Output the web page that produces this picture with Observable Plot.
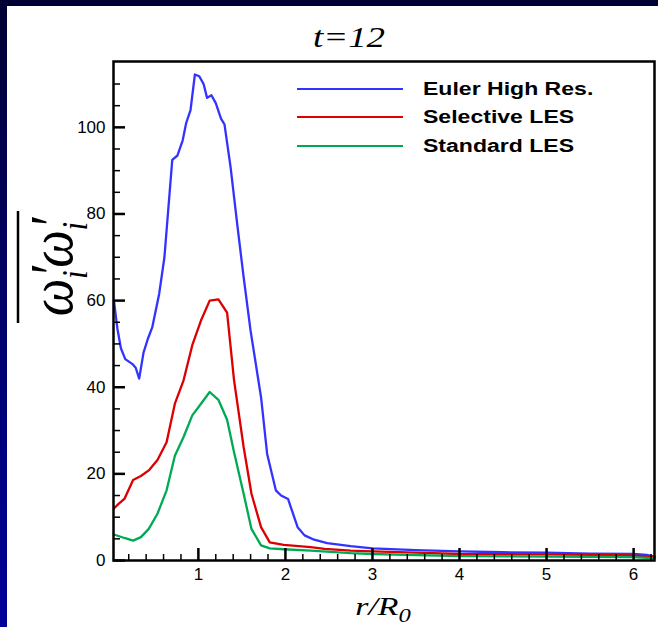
<!DOCTYPE html>
<html>
<head>
<meta charset="utf-8">
<script src="https://cdn.jsdelivr.net/npm/d3@7"></script>
<script src="https://cdn.jsdelivr.net/npm/@observablehq/plot@0.6"></script>
<style>
  html, body { margin: 0; padding: 0; }
  body { width: 658px; height: 627px; overflow: hidden; position: relative;
         background: linear-gradient(to bottom, #000033 0%, #000070 55%, #000099 100%); }
  #panel { position: absolute; left: 7px; top: 6px; width: 651px; height: 621px; background: white; }
  #overlay { position: absolute; left: 0; top: 0; pointer-events: none; }
  .leg { position: absolute; height: 20px; display: flex; align-items: center; white-space: nowrap; }
  .leg .ln { width: 106px; height: 2.5px; margin-right: 20px; }
  .leg .tx { font: bold 18px "Liberation Sans", Arial, sans-serif; display: inline-block; transform: scaleX(1.28); transform-origin: left center; }
</style>
</head>
<body>
<div id="panel"></div>
<script>
// ---- data ----
const seriesNames = ["Euler High Res.", "Selective LES", "Standard LES"];
const seriesColors = ["#3333ff", "#dd0000", "#00aa55"];

const eulerR = [0.03,0.07,0.11,0.16,0.24,0.28,0.32,0.37,0.42,0.47,0.55,0.61,0.70,0.76,0.82,0.86,0.91,0.96,1.01,1.06,1.10,1.15,1.20,1.26,1.30,1.37,1.45,1.52,1.60,1.72,1.79,1.89,1.95,2.03,2.14,2.22,2.33,2.48,2.75,3.0,3.5,4.0,4.5,5.0,5.5,6.0,6.15,6.24];
const eulerW = [60,53.5,49,46.5,45.4,44.5,42,48,51.2,53.8,61.6,70,92.5,93.5,97,101,104,112.2,111.8,110,106.8,107.4,105.6,102,100.7,90.8,77,65.4,53,37.7,24.6,16.2,15,14.2,7.7,5.8,4.8,4,3.3,2.8,2.4,2.1,1.9,1.8,1.6,1.5,1.3,0.9];

const selectiveR = [0.03,0.08,0.15,0.25,0.34,0.43,0.53,0.635,0.73,0.83,0.93,1.03,1.13,1.23,1.33,1.41,1.52,1.61,1.72,1.82,1.98,2.29,2.45,2.75,3.0,3.5,4.0,5.0,6.0,6.24];
const selectiveW = [12,13,14.2,18.6,19.5,20.8,23.2,27.3,36.2,41.6,49.7,55.4,60,60.3,57.2,41.6,26.2,15.4,7.7,4.2,3.6,3.1,2.7,2.3,2.1,1.8,1.5,1.4,1.2,0.8];

const standardR = [0.03,0.15,0.25,0.34,0.43,0.53,0.635,0.73,0.83,0.93,1.03,1.13,1.23,1.33,1.41,1.52,1.61,1.72,1.82,1.98,2.29,2.75,3.0,4.0,5.0,6.0,6.24];
const standardW = [6,5.2,4.6,5.4,7.3,10.8,16.2,24.2,28.5,33.5,36.2,38.9,37.1,32.5,25,15.4,7.3,3.5,2.8,2.6,2.3,1.7,1.5,1.0,0.9,0.8,0.5];

const xTicks = [1, 2, 3, 4, 5, 6];
const xMinorTicks = d3.range(0.2, 6.25, 0.2).map(v => Math.round(v * 10) / 10).filter(v => Math.abs(v - Math.round(v)) > 1e-6);
const yTicks = [0, 20, 40, 60, 80, 100];
const yMinorTicks = d3.range(5, 115, 5).filter(v => v % 20 !== 0);

const titleText = "t=12";

// ---- table ----
const rows = [];
[[eulerR, eulerW], [selectiveR, selectiveW], [standardR, standardW]].forEach(([rs, ws], k) => {
  rs.forEach((r, i) => rows.push({series: seriesNames[k], r, w: ws[i]}));
});

const W = 651, H = 621;
const mL = 106, mT = 55, mR = 4, mB = 67;
const fw = W - mL - mR, fh = H - mT - mB;

const chart = Plot.plot({
  width: W, height: H,
  marginLeft: mL, marginTop: mT, marginRight: mR, marginBottom: mB,
  style: {background: "white", color: "black", fontFamily: "'Liberation Sans', Arial, sans-serif", fontSize: "17px"},
  x: {domain: [0.025, 6.24]},
  y: {domain: [0, 115.2]},
  color: {domain: seriesNames, range: seriesColors},
  marks: [
    Plot.line(rows, {x: "r", y: "w", z: "series", stroke: "series", strokeWidth: 2.3, strokeLinejoin: "round"}),
    Plot.tickX(xMinorTicks, {x: d => d, insetTop: fh - 6, stroke: "black", strokeWidth: 1.5}),
    Plot.tickX(xTicks, {x: d => d, insetTop: fh - 12, stroke: "black", strokeWidth: 2.5}),
    Plot.tickY(yMinorTicks, {y: d => d, insetRight: fw - 7, stroke: "black", strokeWidth: 1.5}),
    Plot.tickY(yTicks, {y: d => d, insetRight: fw - 12, stroke: "black", strokeWidth: 2.5}),
    Plot.axisX({ticks: xTicks, tickSize: 0, tickPadding: 7, label: null, tickFormat: d => String(d)}),
    Plot.axisY({ticks: yTicks, tickSize: 0, tickPadding: 8, label: null, tickFormat: d => String(d)}),
    Plot.frame({stroke: "black", strokeWidth: 2.5})
  ]
});
document.getElementById("panel").appendChild(chart);

// ---- title, axis labels (SVG overlay) ----
const ov = d3.select("body").append("svg").attr("id", "overlay").attr("width", 658).attr("height", 627);
const serif = "'Liberation Serif', 'Times New Roman', serif";

ov.append("text").attr("transform", "translate(349,47) scale(1.23,1)")
  .attr("text-anchor", "middle").attr("font-family", serif).attr("font-style", "italic")
  .attr("font-size", 30).text(titleText);

const xl = ov.append("text").attr("transform", "translate(383,615) scale(1.3,1)")
  .attr("text-anchor", "middle").attr("font-family", serif).attr("font-style", "italic")
  .attr("font-size", 26);
xl.append("tspan").text("r/R");
xl.append("tspan").attr("font-size", 19).attr("dy", 7).text("0");

const yg = ov.append("g").attr("transform", "translate(0,267) rotate(-90)");
const yt = yg.append("text").attr("transform", "translate(0,72) scale(0.86,1)").attr("text-anchor", "middle")
  .attr("font-family", serif).attr("font-style", "italic").attr("font-size", 62);
for (let k = 0; k < 2; k++) {
  yt.append("tspan").attr("dy", k === 0 ? 0 : -15).attr("dx", k === 0 ? 0 : 3).text("ω");
  yt.append("tspan").attr("dx", 1).attr("dy", 0).text("′");
  yt.append("tspan").attr("font-size", 36).attr("dx", -15).attr("dy", 15).text("i");
}
yg.append("line").attr("x1", -56).attr("x2", 56).attr("y1", 18).attr("y2", 18)
  .attr("stroke", "black").attr("stroke-width", 2.5);

// ---- legend ----
const legTop = [89, 117, 146];
seriesNames.forEach((name, k) => {
  const d = document.createElement("div");
  d.className = "leg";
  d.style.left = "297px";
  d.style.top = (legTop[k] - 10) + "px";
  d.innerHTML = `<span class="ln" style="background:${seriesColors[k]}"></span><span class="tx">${name}</span>`;
  document.body.appendChild(d);
});
</script>
</body>
</html>
